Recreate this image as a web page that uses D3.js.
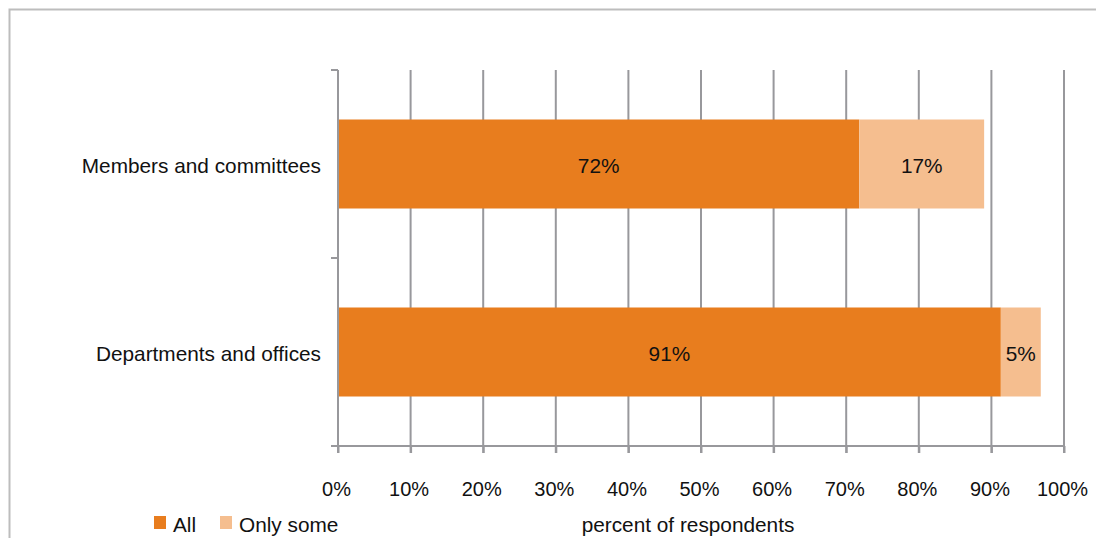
<!DOCTYPE html>
<html><head><meta charset="utf-8">
<script src="https://cdn.jsdelivr.net/npm/d3@7"></script>
<style>
html,body{margin:0;padding:0;background:#fff;}
svg{display:block;font-family:"Liberation Sans",Arial,sans-serif;}
</style></head>
<body>
<svg id="chart" width="1096" height="538"></svg>
<script>
const categories = ["Members and committees", "Departments and offices"];
const seriesNames = ["All", "Only some"];
const allValues = [71.8, 91.3];
const someValues = [17.2, 5.5];
const allLabels = ["72%", "91%"];
const someLabels = ["17%", "5%"];
const xTicks = [0,10,20,30,40,50,60,70,80,90,100];
const xTitle = "percent of respondents";
const colors = ["#E87D1E", "#F5BE8F"];
const gridColor = "#98989C";
const FS = 20.8;

const svg = d3.select("#chart");
svg.append("path").attr("d","M9.5,538 V9.5 H1096").attr("fill","none").attr("stroke","#BDBDBD").attr("stroke-width",2);

const x = d3.scaleLinear().domain([0,100]).range([338,1064]);
const y = d3.scaleBand().domain(categories).range([70,446]).paddingInner(0).paddingOuter(0);
const barH = 89;

svg.append("g").selectAll("line").data(xTicks.filter(d=>d>0)).join("line")
  .attr("x1",d=>x(d)).attr("x2",d=>x(d)).attr("y1",70).attr("y2",453)
  .attr("stroke",gridColor).attr("stroke-width",2);

const stacked = categories.map((c,i)=>({c, a:allValues[i], s:someValues[i], la:allLabels[i], ls:someLabels[i]}));
const bt = d => y(d.c) + (y.bandwidth()-barH)/2;
const g = svg.append("g");
g.selectAll("rect.all").data(stacked).join("rect").attr("class","all")
  .attr("x",x(0)).attr("y",bt).attr("width",d=>x(d.a)-x(0)).attr("height",barH).attr("fill",colors[0]);
g.selectAll("rect.some").data(stacked).join("rect").attr("class","some")
  .attr("x",d=>x(d.a)).attr("y",bt).attr("width",d=>x(d.a+d.s)-x(d.a)).attr("height",barH).attr("fill",colors[1]);
g.selectAll("text.la").data(stacked).join("text").attr("class","la")
  .attr("x",d=>(x(0)+x(d.a))/2).attr("y",d=>bt(d)+barH/2+2).attr("dy","0.35em")
  .attr("text-anchor","middle").attr("font-size",FS).attr("fill","#111").text(d=>d.la);
g.selectAll("text.ls").data(stacked).join("text").attr("class","ls")
  .attr("x",d=>(x(d.a)+x(d.a+d.s))/2).attr("y",d=>bt(d)+barH/2+2).attr("dy","0.35em")
  .attr("text-anchor","middle").attr("font-size",FS).attr("fill","#111").text(d=>d.ls);

const xAxis = svg.append("g").attr("transform","translate(0,446)")
  .call(d3.axisBottom(x).tickValues(xTicks).tickFormat(d=>d+"%").tickSize(7).tickSizeOuter(0));
xAxis.select(".domain").attr("stroke",gridColor).attr("stroke-width",2).attr("d","M331,0H1064");
xAxis.selectAll(".tick line").attr("stroke",gridColor).attr("stroke-width",2);
xAxis.selectAll(".tick text").attr("font-size",20).attr("fill","#111").attr("x",-2).attr("y",43).attr("dy","0.35em").attr("font-family","Liberation Sans, Arial, sans-serif");

const yAxis = svg.append("g").attr("transform","translate(338,0)");
yAxis.append("line").attr("x1",0).attr("x2",0).attr("y1",70).attr("y2",453).attr("stroke",gridColor).attr("stroke-width",2);
const yBounds = [70, ...categories.map(c=>y(c)+y.bandwidth())];
yAxis.selectAll("line.t").data(yBounds).join("line").attr("class","t")
  .attr("x1",-7).attr("x2",0).attr("y1",d=>d).attr("y2",d=>d).attr("stroke",gridColor).attr("stroke-width",2);
yAxis.selectAll("text").data(categories).join("text")
  .attr("x",-17).attr("y",d=>y(d)+y.bandwidth()/2+2).attr("dy","0.35em")
  .attr("text-anchor","end").attr("font-size",20.8).attr("fill","#111").text(d=>d);

const leg = svg.append("g");
const legX = [154, 220];
seriesNames.forEach((n,i)=>{
  leg.append("rect").attr("x",legX[i]).attr("y",516).attr("width",12).attr("height",13).attr("fill",colors[i]);
  leg.append("text").attr("x",legX[i]+19).attr("y",525).attr("dy","0.35em").attr("font-size",FS).attr("fill","#111").text(n);
});
svg.append("text").attr("x",688).attr("y",525).attr("dy","0.35em").attr("text-anchor","middle")
  .attr("font-size",FS).attr("fill","#111").text(xTitle);
</script>
</body></html>
